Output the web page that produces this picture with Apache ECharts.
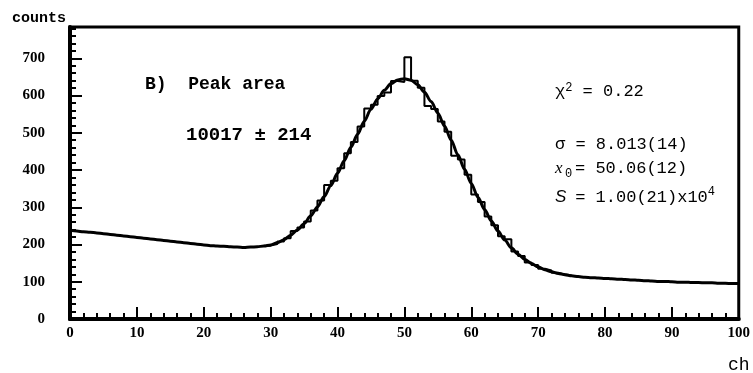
<!DOCTYPE html>
<html>
<head>
<meta charset="utf-8">
<script src="https://cdn.jsdelivr.net/npm/echarts@6/dist/echarts.min.js"></script>
<style>html,body{margin:0;padding:0;background:#fff}#c{width:753px;height:373px}</style>
</head>
<body>
<div id="c"></div>
<script>
// Fitted curve: channel and value
const curveCh = [];
for (let i = 0; i <= 100; i++) curveCh.push(i);
const curveVal = [238,236,234,233,231,229,227,225,223,221,
  219,217,215,213,211,209,207,205,203,201,
  199,197,196,195,194,193,192,193,194,196,
  199,205,213,225,239,256,277,301,329,358,
  391,425,461,496,531,563,591,614,632,642,
  645,641,629,609,584,553,518,480,441,402,
  364,327,294,263,236,212,191,174,160,149,
  140,132,127,122,119,116,114,112,111,110,
  109,108,107,106,105,104,103,102,101,101,
  100,99,99,98,98,97,97,96,96,95,95];
// Histogram bins: left edge of each 1-channel bin and its counts
const binStart = [29,30,31,32,33,34,35,36,37,38,39,40,41,42,43,44,45,46,47,48,49,50,51,52,53,54,55,56,57,58,59,60,61,62,63,64,65,66,67,68,69,70,71,72,73,74];
const binCounts = [197,201,208,217,236,246,262,291,318,360,371,405,445,475,517,565,575,599,608,639,636,703,640,621,572,564,530,503,438,428,387,334,314,275,252,222,214,181,169,152,145,135,130,124,120,117];
const binWidth = 1;
const xTicks = [0,10,20,30,40,50,60,70,80,90,100];
const yTicks = [0,100,200,300,400,500,600,700];

const curveData = curveCh.map((c, i) => [c, curveVal[i]]);
const histData = binStart.map((s, i) => [s, binCounts[i]]);
histData.push([binStart[binStart.length - 1] + binWidth, binCounts[binCounts.length - 1]]);

const chart = echarts.init(document.getElementById('c'), null, {renderer: 'canvas'});
const axisFont = {fontFamily: 'Liberation Serif', fontWeight: 'bold', fontSize: 15, color: '#000'};
chart.setOption({
  animation: false,
  backgroundColor: '#fff',
  grid: {left: 70, right: 10, top: 27, bottom: 54, show: true, borderColor: '#000', borderWidth: 3, backgroundColor: 'transparent'},
  xAxis: {
    type: 'value', min: xTicks[0], max: xTicks[xTicks.length - 1], interval: 10,
    axisLine: {show: true, onZero: false, lineStyle: {color: '#000', width: 4}},
    axisTick: {show: true, inside: true, length: 12, lineStyle: {color: '#000', width: 2}},
    minorTick: {show: true, splitNumber: 5, length: 6, lineStyle: {color: '#000', width: 2}},
    splitLine: {show: false},
    axisLabel: Object.assign({margin: 7}, axisFont)
  },
  yAxis: {
    type: 'value', min: yTicks[0], max: 784, interval: 100,
    axisLine: {show: true, onZero: false, lineStyle: {color: '#000', width: 4}},
    axisTick: {show: true, inside: true, length: 12, lineStyle: {color: '#000', width: 2}},
    minorTick: {show: true, splitNumber: 5, length: 6, lineStyle: {color: '#000', width: 2}},
    splitLine: {show: false},
    axisLabel: Object.assign({margin: 25, showMaxLabel: false}, axisFont)
  },
  series: [
    {type: 'line', data: histData, step: 'end', showSymbol: false, symbol: 'none',
     lineStyle: {color: '#000', width: 2}, z: 2},
    {type: 'line', data: curveData, smooth: 0.3, smoothMonotone: 'x', showSymbol: false, symbol: 'none',
     lineStyle: {color: '#000', width: 3}, z: 3}
  ],
  graphic: [
    {type: 'text', left: 12, top: 11, style: {text: 'counts', font: 'bold 15px "Liberation Mono"', fill: '#000'}},
    {type: 'text', left: 728, top: 356, style: {text: 'ch', font: '18px "Liberation Mono"', fill: '#000'}},
    {type: 'text', left: 145, top: 75, style: {text: 'B)  Peak area', font: 'bold 18px "Liberation Mono"', fill: '#000'}},
    {type: 'text', left: 186, top: 126, style: {text: '10017 ± 214', font: 'bold 19px "Liberation Mono"', fill: '#000'}},
    {type: 'text', left: 555, top: 82, style: {
      text: '{n|χ}{sup|2}{n| = 0.22}', rich: {
        n: {font: '17px "Liberation Mono"', fill: '#000', verticalAlign: 'bottom'},
        sup: {font: '12px "Liberation Mono"', fill: '#000', verticalAlign: 'top', padding: [0, 0, 6, 0]}}}},
    {type: 'text', left: 555, top: 136, style: {text: 'σ = 8.013(14)', font: '17px "Liberation Mono"', fill: '#000'}},
    {type: 'text', left: 555, top: 160, style: {
      text: '{i|x}{sub|0}{n|= 50.06(12)}', rich: {
        i: {font: 'italic 17px "Liberation Serif"', fill: '#000', width: 10},
        sub: {font: '12px "Liberation Mono"', fill: '#000', padding: [10, 0, 0, 0], width: 10},
        n: {font: '17px "Liberation Mono"', fill: '#000'}}}},
    {type: 'text', left: 555, top: 186, style: {
      text: '{i|S}{n| = 1.00(21)x10}{sup|4}', rich: {
        i: {font: 'italic 17px "Liberation Sans"', fill: '#000', width: 10},
        n: {font: '17px "Liberation Mono"', fill: '#000'},
        sup: {font: '12px "Liberation Mono"', fill: '#000', padding: [0, 0, 10, 0]}}}}
  ]
});
</script>
</body>
</html>
